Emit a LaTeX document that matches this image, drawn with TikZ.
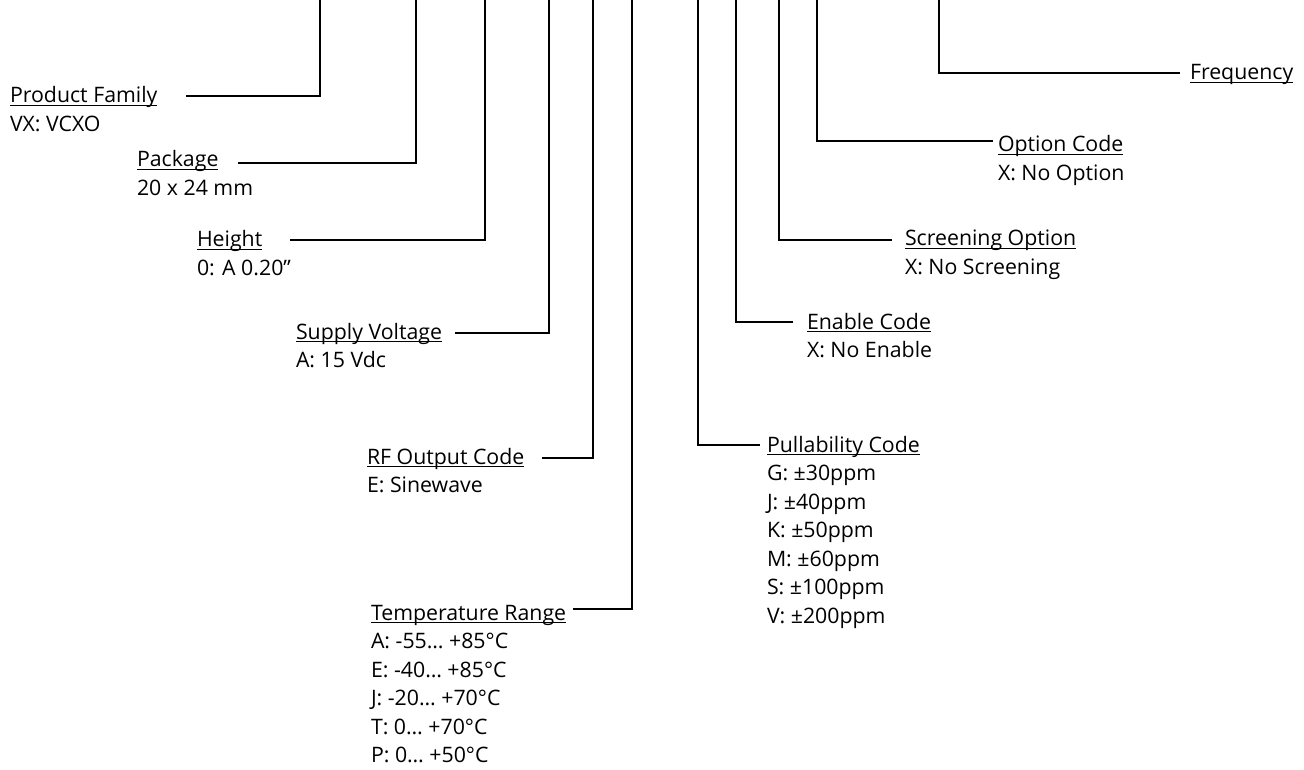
\documentclass[tikz,border=0pt]{standalone}
\usepackage{fontspec}
\setmainfont{Open Sans}
\newcommand\ulx[1]{\setbox0\hbox{#1}\leavevmode\rlap{\rule[-3.2pt]{\wd0}{1.3pt}}\box0}
\newcommand\lbl[2]{\begin{tabular}[t]{@{}l@{}}\ulx{#1}#2\end{tabular}}
\begin{document}
\begin{tikzpicture}[x=1pt,y=-1pt,
  conn/.style={line width=2.3pt,line join=miter,line cap=butt},
  lab/.style={anchor=base west,inner sep=0pt,outer sep=0pt,font=\fontsize{21.3}{28.5}\selectfont}]
\useasboundingbox (0,0) rectangle (1304,770);
% labels
\node[lab] (pf)  at (10,103)  {\lbl{Product Family}{\\VX: VCXO}};
\node[lab] (pkg) at (137,167) {\lbl{Package}{\\20 x 24 mm}};
\node[lab] (hgt) at (197,247) {\lbl{Height}{\\0: A 0.20”}};
\node[lab] (sv)  at (296,339) {\lbl{Supply Voltage}{\\A: 15 Vdc}};
\node[lab] (rf)  at (367,464) {\lbl{RF Output Code}{\\E: Sinewave}};
\node[lab] (tr)  at (371,620) {\lbl{Temperature Range}{\\A: -55… +85°C\\E: -40… +85°C\\J: -20… +70°C\\T: 0… +70°C\\P: 0… +50°C}};
\node[lab] (pc)  at (767,452) {\lbl{Pullability Code}{\\G: ±30ppm\\J: ±40ppm\\K: ±50ppm\\M: ±60ppm\\S: ±100ppm\\V: ±200ppm}};
\node[lab] (ec)  at (807,329) {\lbl{Enable Code}{\\X: No Enable}};
\node[lab] (so)  at (905,246) {\lbl{Screening Option}{\\X: No Screening}};
\node[lab] (oc)  at (998,152) {\lbl{Option Code}{\\X: No Option}};
\node[lab] (fq)  at (1190,80) {\lbl{Frequency}{}};
% connector ends
\coordinate (t1) at (320,0);   \coordinate (e1) at (186,96);
\coordinate (t2) at (416,0);   \coordinate (e2) at (238,163);
\coordinate (t3) at (485,0);   \coordinate (e3) at (290,240);
\coordinate (t4) at (549,0);   \coordinate (e4) at (455,333);
\coordinate (t5) at (593,0);   \coordinate (e5) at (542,458);
\coordinate (t6) at (632,0);   \coordinate (e6) at (573,609);
\coordinate (t7) at (698,0);   \coordinate (e7) at (760,445);
\coordinate (t8) at (736,0);   \coordinate (e8) at (793,322);
\coordinate (t9) at (779,0);   \coordinate (e9) at (892,240);
\coordinate (t10) at (817,0);  \coordinate (e10) at (993,141);
\coordinate (t11) at (939,0);  \coordinate (e11) at (1180,73);
\foreach \i in {1,...,11} \draw[conn] (t\i) |- (e\i);
\end{tikzpicture}
\end{document}
